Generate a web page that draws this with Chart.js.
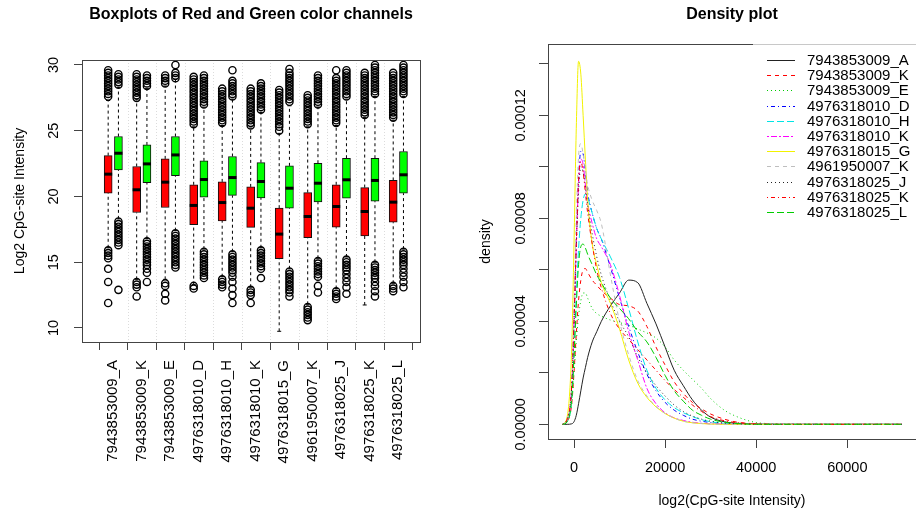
<!DOCTYPE html>
<html>
<head>
<meta charset="utf-8">
<script src="https://cdn.jsdelivr.net/npm/chart.js@4.4.1/dist/chart.umd.min.js"></script>
<style>
html,body{margin:0;padding:0;background:#fff;}
#wrap{position:relative;width:916px;height:517px;overflow:hidden;}
#boxChart{position:absolute;left:0;top:0;}
#densChart{position:absolute;left:460px;top:0;}
</style>
</head>
<body>
<div id="wrap">
  <canvas id="boxChart" width="460" height="517"></canvas>
  <canvas id="densChart" width="456" height="517"></canvas>
</div>
<script>
const FONT = "'Liberation Sans', Arial, Helvetica, sans-serif";
Chart.defaults.font.family = FONT;
Chart.defaults.color = '#000';

// ---- boxplot data (log2 intensity) ----
const samples = ['7943853009_A','7943853009_K','7943853009_E','4976318010_D','4976318010_H','4976318010_K',
                 '4976318015_G','4961950007_K','4976318025_J','4976318025_K','4976318025_L'];
const redLo  = [16.1, 13.7, 13.7, 13.3, 13.9, 13.1,  9.75, 11.8, 13.0, 11.75, 13.4];
const redQ1  = [20.25,18.78,19.16,17.85,18.15,17.65,15.27,16.86,17.67,17.01,18.05];
const redMed = [21.70,20.51,21.09,19.32,19.54,19.11,17.14,18.48,19.24,18.86,19.57];
const redQ3  = [23.11,22.28,22.86,20.89,21.11,20.73,19.11,20.30,20.89,20.68,21.22];
const redHi  = [27.3, 27.4, 28.4, 25.3, 25.4, 25.2, 24.8, 25.3, 25.4, 26.0, 25.8];
const greenLo  = [18.3, 16.8, 17.4, 16.0, 15.8, 16.1, 14.5, 15.3, 15.4, 15.0, 16.0];
const greenQ1  = [22.03,21.06,21.59,19.95,20.08,19.90,19.11,19.59,19.87,19.65,20.25];
const greenMed = [23.29,22.48,23.16,21.29,21.44,21.14,20.63,21.01,21.27,21.22,21.65];
const greenQ3  = [24.56,23.92,24.56,22.71,23.04,22.58,22.33,22.53,22.91,22.91,23.42];
const greenHi  = [28.3, 28.2, 28.9, 26.8, 27.4, 26.4, 26.9, 26.8, 27.4, 27.6, 27.6];
const redOut = [
  [29.6,29.4,29.2,29.0,28.8,28.6,28.4,28.2,28.0,27.8,27.6,15.9,15.7,15.5,15.3,14.5,13.5,11.9],
  [29.3,29.1,28.9,28.7,28.5,28.3,28.1,27.9,27.7,27.5,13.5,13.3,13.1,12.4],
  [29.2,29.0,28.8,28.6,13.4,13.2,12.6,12.1],
  [29.1,28.9,28.7,28.5,28.3,28.1,27.9,27.7,27.5,27.3,27.1,26.9,26.7,26.5,26.3,26.1,25.9,25.7,25.5,13.2,13.0],
  [28.2,28.0,27.8,27.6,27.4,27.2,27.0,26.8,26.6,26.4,26.2,26.0,25.8,25.6,13.7,13.5,13.3,13.1],
  [28.2,28.0,27.8,27.6,27.4,27.2,27.0,26.8,26.6,26.4,26.2,26.0,25.8,25.6,25.4,12.9,12.7,12.5,11.9],
  [28.1,27.9,27.7,27.5,27.3,27.1,26.9,26.7,26.5,26.3,26.1,25.9,25.7,25.5,25.3,25.0],
  [27.7,27.5,27.3,27.1,26.9,26.7,26.5,26.3,26.1,25.9,25.7,25.5,11.6,11.4,11.2,11.0,10.8,10.6],
  [29.6,29.0,28.8,28.6,28.4,28.2,28.0,27.8,27.6,27.4,27.2,27.0,26.8,26.6,26.4,26.2,26.0,25.8,25.6,12.8,12.6,12.4,12.2],
  [29.4,29.2,29.0,28.8,28.6,28.4,28.2,28.0,27.8,27.6,27.4,27.2,27.0,26.8,26.6,26.4,26.2],
  [29.4,29.2,29.0,28.8,28.6,28.4,28.2,28.0,27.8,27.6,27.4,27.2,27.0,26.8,26.6,26.4,26.2,26.0,13.2,13.0,12.8]
];
const greenOut = [
  [29.3,29.1,28.9,28.7,28.5,18.1,17.9,17.7,17.5,17.3,17.1,16.9,16.7,16.5,16.3,12.9],
  [29.2,29.0,28.8,28.6,28.4,16.6,16.4,16.2,16.0,15.8,15.6,15.4,15.2,15.0,14.8,14.5,14.2,13.5],
  [30.0,29.4,29.2,29.0,17.2,17.0,16.8,16.6,16.4,16.2,16.0,15.8,15.6,15.4,15.2,15.0,14.8,14.6],
  [29.2,29.0,28.8,28.6,28.4,28.2,28.0,27.8,27.6,27.4,27.2,27.0,15.8,15.6,15.4,15.2,15.0,14.8,14.6,14.4,14.2,14.0,13.8],
  [29.6,28.8,28.6,28.4,28.2,28.0,27.8,27.6,15.6,15.4,15.2,15.0,14.8,14.6,14.4,14.2,13.9,13.5,13.0,12.5,11.9],
  [28.6,28.4,28.2,28.0,27.8,27.6,27.4,27.2,27.0,26.8,26.6,15.9,15.7,15.5,15.3,15.1,14.9,14.7,14.5,13.8],
  [29.7,29.4,29.2,29.0,28.8,28.6,28.4,28.2,28.0,27.8,27.6,27.4,27.2,14.3,14.1,13.9,13.7,13.5,13.3,13.1,12.9,12.7,12.4],
  [29.2,29.0,28.8,28.6,28.4,28.2,28.0,27.8,27.6,27.4,27.2,27.0,15.1,14.9,14.7,14.5,14.3,14.1,13.9,13.2,12.7],
  [29.6,29.4,29.2,29.0,28.8,28.6,28.4,28.2,28.0,27.8,27.6,15.2,15.0,14.8,14.6,14.4,14.1,13.8,13.5,13.1,12.6],
  [30.0,29.8,29.6,29.4,29.2,29.0,28.8,28.6,28.4,28.2,28.0,27.8,14.8,14.6,14.4,14.2,14.0,13.8,13.5,13.2,12.8,12.4],
  [30.0,29.8,29.6,29.4,29.2,29.0,28.8,28.6,28.4,28.2,28.0,27.8,15.8,15.6,15.4,15.2,15.0,14.8,14.5,14.2,13.9,13.5,13.1]
];
const boxYTicks = [10, 15, 20, 25, 30];

// ---- density data (y in units of 1e-5) ----
const densX = [-2500,-1500,-500,0,500,1000,1500,2000,2500,3000,4000,5000,6000,8000,10000,12000,
               14000,16000,18000,20000,22000,24000,26000,28000,30000,33000,36000,40000,45000,50000,60000,72000];
const dA  = [0,0,0.02,0.1,0.35,0.8,1.3,1.8,2.2,2.6,3.2,3.6,4.0,4.6,5.1,5.6,5.5,4.7,3.9,3.0,2.1,1.5,0.95,0.55,0.28,0.1,0.04,0.01,0,0,0,0];
const dK  = [0,0.1,0.8,2.0,3.5,4.8,5.6,6.0,6.05,5.9,5.6,5.4,5.2,4.9,4.65,4.6,4.4,3.8,3.0,2.3,1.65,1.2,0.85,0.6,0.4,0.2,0.08,0.02,0,0,0,0];
const dE  = [0,0.1,0.8,2.0,3.2,4.2,4.8,5.1,5.1,4.9,4.5,4.3,4.2,4.05,3.95,3.85,3.7,3.55,3.35,3.0,2.5,2.1,1.75,1.4,1.0,0.55,0.28,0.07,0.02,0.01,0.003,0];
const dD  = [0,0.2,1.5,4.0,7.0,9.5,10.6,10.5,9.8,9.0,8.2,7.6,7.2,6.1,4.9,3.8,2.8,1.95,1.3,0.85,0.55,0.35,0.2,0.12,0.07,0.03,0.01,0,0,0,0,0];
const dH  = [0,0.1,1.0,2.8,5.0,6.8,8.0,8.7,8.95,8.8,8.2,7.6,7.2,6.5,5.7,4.5,3.2,2.1,1.4,0.95,0.65,0.45,0.3,0.18,0.1,0.04,0.01,0,0,0,0,0];
const d10K = [0,0.2,1.5,4.0,7.0,9.3,10.3,10.1,9.3,8.6,7.8,7.2,6.9,6.2,5.0,3.6,2.5,1.4,0.8,0.45,0.25,0.15,0.08,0.04,0.02,0.01,0,0,0,0,0,0];
const dG  = [0,0.3,3.0,7.0,11.5,14.1,13.6,12.0,10.3,8.7,7.0,6.2,5.5,4.7,3.7,2.5,1.6,1.05,0.68,0.42,0.24,0.12,0.06,0.03,0.01,0,0,0,0,0,0,0];
const d07K = [0,0.2,1.6,4.5,8.0,10.4,10.9,10.5,9.9,9.3,8.7,8.3,7.8,5.8,4.0,2.7,1.7,1.1,0.7,0.42,0.24,0.12,0.06,0.03,0.01,0,0,0,0,0,0,0];
const dJ  = [0,0.2,1.4,3.8,6.8,9.0,10.0,9.8,9.2,8.5,7.4,6.5,5.8,4.8,4.0,3.4,2.6,2.0,1.5,1.1,0.75,0.5,0.32,0.2,0.12,0.05,0.02,0,0,0,0,0];
const d25K = [0,0.2,1.5,4.0,7.0,9.5,10.2,9.8,9.0,8.2,7.0,6.0,5.3,4.3,3.7,3.3,2.9,2.5,2.1,1.7,1.35,1.05,0.75,0.5,0.3,0.14,0.06,0.02,0,0,0,0];
const dL  = [0,0.1,1.0,2.6,4.6,6.2,6.9,7.0,6.85,6.6,6.2,5.8,5.5,4.9,4.5,4.1,3.6,3.2,2.6,1.9,1.3,0.9,0.55,0.35,0.2,0.08,0.03,0,0,0,0,0];
const densSeries = [dA, dK, dE, dD, dH, d10K, dG, d07K, dJ, d25K, dL];
const densYTicks = [0, 0.00002, 0.00004, 0.00006, 0.00008, 0.00010, 0.00012, 0.00014];
const densXTicks = [0, 20000, 40000, 60000];

// R-like palette and line types
const lineCols = ['#222222','#ff0000','#00cd00','#0000ff','#00e5e5','#ff00ff','#f2f200','#bebebe','#222222','#ff0000','#00cd00'];
const lineDash = [[], [4,4], [1,3], [1,3,4,3], [7,3], [2,2,6,2], [], [4,4], [1,3], [1,3,4,3], [7,3]];

// ---- plugins ----
const frame = {
  id: 'frame',
  beforeDatasetsDraw(c, a, o) {
    if (!o.gaps) return;
    const ctx = c.ctx, s = c.scales.x, ar = c.chartArea;
    ctx.save();
    ctx.strokeStyle = '#dcdcdc'; ctx.lineWidth = 1; ctx.setLineDash([1,2]);
    o.gaps.forEach(v => {
      const x = Math.round(s.getPixelForValue(v)) + 0.5;
      ctx.beginPath(); ctx.moveTo(x, ar.top); ctx.lineTo(x, ar.bottom); ctx.stroke();
    });
    ctx.restore();
  },
  afterDraw(c, a, o) {
    const ctx = c.ctx, ar = c.chartArea;
    ctx.save();
    ctx.strokeStyle = '#444'; ctx.lineWidth = 1;
    ctx.strokeRect(Math.round(ar.left) + 0.5, Math.round(ar.top) + 0.5,
                   Math.round(ar.right - ar.left), Math.round(ar.bottom - ar.top));
    ctx.fillStyle = '#000';
    ctx.font = 'bold 16px ' + FONT;
    ctx.textAlign = 'center'; ctx.textBaseline = 'middle';
    ctx.fillText(o.title, (ar.left + ar.right) / 2, 15);
    // rotated y tick labels, like R's las=0
    const s = c.scales.y;
    ctx.font = '14.5px ' + FONT;
    s.ticks.forEach((t, i) => {
      if (i % o.every) return;
      ctx.save();
      ctx.translate(ar.left - o.off, s.getPixelForValue(t.value));
      ctx.rotate(-Math.PI / 2);
      ctx.fillText(o.fmt(t.value), 0, 0);
      ctx.restore();
    });
    ctx.restore();
  }
};

const rLegend = {
  id: 'rLegend',
  afterDraw(c) {
    if (c.canvas.id !== 'densChart') return;
    const ctx = c.ctx, ar = c.chartArea;
    const x0 = ar.right - 163;
    ctx.save();
    ctx.fillStyle = '#fff';
    ctx.fillRect(x0, ar.top - 1, ar.right - x0 + 2, 180);
    ctx.strokeStyle = '#c8c8c8'; ctx.lineWidth = 1;
    ctx.beginPath(); ctx.moveTo(x0, Math.round(ar.top) + 0.5); ctx.lineTo(ar.right + 2, Math.round(ar.top) + 0.5); ctx.stroke();
    ctx.font = '15px ' + FONT; ctx.textBaseline = 'middle'; ctx.textAlign = 'left';
    samples.forEach((name, i) => {
      const y = Math.round(ar.top + 16 + i * 15.2) + 0.5;
      ctx.strokeStyle = lineCols[i]; ctx.setLineDash(lineDash[i]);
      ctx.beginPath(); ctx.moveTo(ar.right - 149, y); ctx.lineTo(ar.right - 121, y); ctx.stroke();
      ctx.setLineDash([]);
      ctx.fillStyle = '#000';
      ctx.fillText(name, ar.right - 109, y);
    });
    ctx.restore();
  }
};

// ---- left: boxplots ----
const OFF = 0.18;
const boxes = [], meds = [], staples = [], outs = [], whisk = [];
samples.forEach((s, i) => {
  const groups = [
    [i + 1 - OFF, redLo[i], redQ1[i], redMed[i], redQ3[i], redHi[i], redOut[i]],
    [i + 1 + OFF, greenLo[i], greenQ1[i], greenMed[i], greenQ3[i], greenHi[i], greenOut[i]]
  ];
  groups.forEach(([x, lo, q1, md, q3, hi, ol]) => {
    boxes.push({x, y: [q1, q3]});
    meds.push({x, y: md});
    staples.push({x, y: lo}, {x, y: hi});
    whisk.push({x, y: lo}, {x, y: q1}, {x, y: null}, {x, y: q3}, {x, y: hi}, {x, y: null});
    ol.forEach(v => outs.push({x, y: v}));
  });
});
const boxCols = samples.flatMap(() => ['#ff0000', '#00ff00']);

new Chart(document.getElementById('boxChart'), {
  type: 'bar',
  data: {
    datasets: [
      {type: 'scatter', data: meds, pointStyle: 'line', pointRadius: 4, borderColor: '#000', borderWidth: 3},
      {type: 'bar', data: boxes, backgroundColor: boxCols, borderColor: '#111', borderWidth: 1, borderSkipped: false, barThickness: 8},
      {type: 'scatter', data: outs, pointStyle: 'circle', pointRadius: 3.6, borderColor: '#000', borderWidth: 1.4, backgroundColor: 'rgba(0,0,0,0)'},
      {type: 'scatter', data: staples, pointStyle: 'line', pointRadius: 2, borderColor: '#000', borderWidth: 1},
      {type: 'line', data: whisk, borderColor: '#000', borderWidth: 1, borderDash: [3,3], pointRadius: 0, spanGaps: false, fill: false}
    ]
  },
  options: {
    responsive: false, animation: false,
    layout: {padding: {left: 12, right: 40, top: 60, bottom: 0}},
    plugins: {
      legend: {display: false}, tooltip: {enabled: false},
      frame: {title: 'Boxplots of Red and Green color channels', gaps: samples.slice(1).map((s, i) => i + 1.5),
              every: 1, off: 28.5, fmt: v => String(v)}
    },
    scales: {
      x: {
        type: 'linear', min: -0.098, max: 11.76, offset: false,
        afterBuildTicks: s => { s.ticks = samples.map((n, i) => ({value: i + 1})); },
        afterFit: s => { s.height = 175; },
        grid: {drawOnChartArea: false, drawTicks: true, tickLength: 8, color: '#444'},
        border: {display: false},
        ticks: {autoSkip: false, minRotation: 90, maxRotation: 90, padding: 10, font: {size: 15},
                callback: (v, i) => samples[i]}
      },
      y: {
        min: 8.935, max: 30.38,
        afterBuildTicks: s => { s.ticks = boxYTicks.map(v => ({value: v})); },
        afterFit: s => { s.width = 70; },
        grid: {drawOnChartArea: false, drawTicks: true, tickLength: 8, color: '#444'},
        border: {display: false},
        ticks: {display: false},
        title: {display: true, text: 'Log2 CpG-site Intensity', font: {size: 14}, padding: {top: 0, bottom: 0}}
      }
    }
  },
  plugins: [frame]
});

// ---- right: density plot ----
new Chart(document.getElementById('densChart'), {
  type: 'line',
  data: {
    datasets: densSeries.map((ys, i) => ({
      label: samples[i],
      data: densX.map((x, j) => ({x, y: ys[j] / 1e5})),
      borderColor: lineCols[i], borderDash: lineDash[i], borderWidth: 1,
      pointRadius: 0, fill: false, cubicInterpolationMode: 'monotone',
      order: densSeries.length - i
    }))
  },
  options: {
    responsive: false, animation: false,
    layout: {padding: {left: 0, right: 0, top: 44, bottom: 0}},
    plugins: {
      legend: {display: false}, tooltip: {enabled: false},
      frame: {title: 'Density plot', every: 2, off: 27, fmt: v => v.toFixed(5)}
    },
    scales: {
      x: {
        type: 'linear', min: -5708, max: 75082,
        afterBuildTicks: s => { s.ticks = densXTicks.map(v => ({value: v})); },
        afterFit: s => { s.height = 78; },
        grid: {drawOnChartArea: false, drawTicks: true, tickLength: 9, color: '#444'},
        border: {display: false},
        ticks: {padding: 11, font: {size: 14.5}, maxRotation: 0, callback: v => String(v)},
        title: {display: true, text: 'log2(CpG-site Intensity)', font: {size: 14}, padding: {top: 0, bottom: 7}}
      },
      y: {
        min: -0.0000057, max: 0.0001477,
        afterBuildTicks: s => { s.ticks = densYTicks.map(v => ({value: v})); },
        afterFit: s => { s.width = 88; },
        grid: {drawOnChartArea: false, drawTicks: true, tickLength: 9, color: '#444'},
        border: {display: false},
        ticks: {display: false},
        title: {display: true, text: 'density', font: {size: 14}, padding: {top: 17.6, bottom: 0}}
      }
    }
  },
  plugins: [frame, rLegend]
});
</script>
</body>
</html>
